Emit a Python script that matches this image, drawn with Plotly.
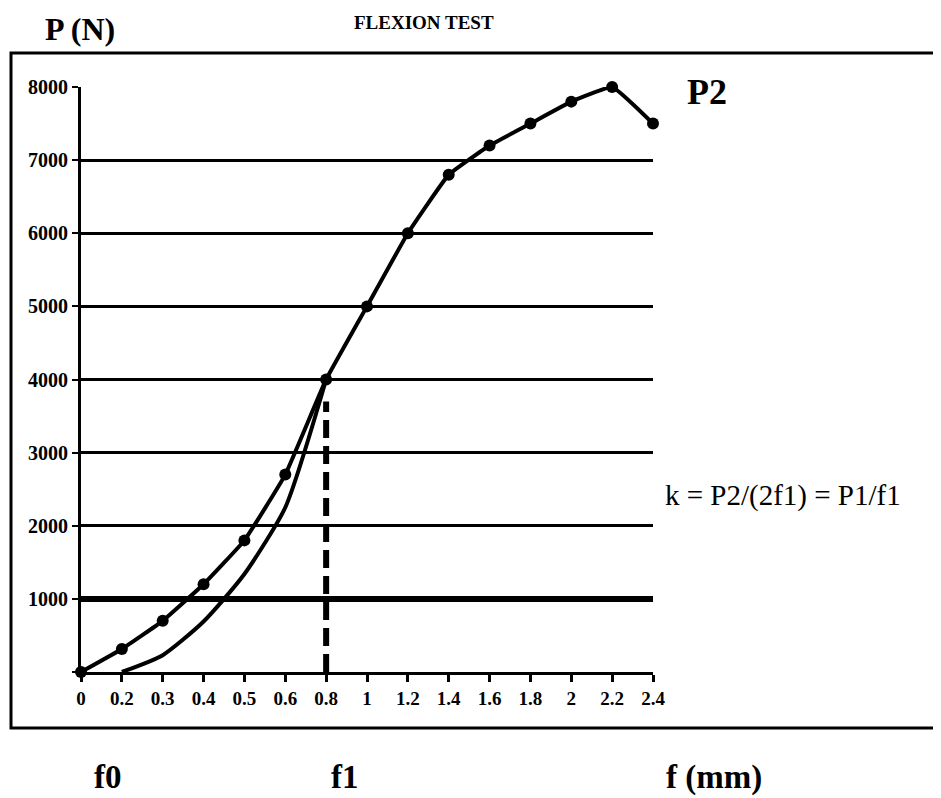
import plotly.graph_objects as go

# ---- data ----
deflection_labels = ["0", "0.2", "0.3", "0.4", "0.5", "0.6", "0.8", "1", "1.2",
                     "1.4", "1.6", "1.8", "2", "2.2", "2.4"]
load_curve = [0, 315, 700, 1200, 1800, 2700, 4000, 5000, 6000, 6800, 7200,
              7500, 7800, 8000, 7500]
second_x = ["0.2", "0.3", "0.4", "0.5", "0.6", "0.8"]
second_load = [0, 230, 690, 1340, 2250, 4000]
f1_label = "0.8"
f1_load = [0, 3700]
y_ticks = [0, 1000, 2000, 3000, 4000, 5000, 6000, 7000, 8000]
y_tick_text = ["", "1000", "2000", "3000", "4000", "5000", "6000", "7000", "8000"]

FONT = "Liberation Serif"

fig = go.Figure()

fig.add_trace(go.Scatter(
    x=second_x, y=second_load, mode="lines",
    line=dict(color="black", width=4, shape="spline", smoothing=0.6),
    cliponaxis=False, showlegend=False))

fig.add_trace(go.Scatter(
    x=deflection_labels, y=load_curve, mode="lines+markers",
    line=dict(color="black", width=4, shape="spline", smoothing=0.3),
    marker=dict(color="black", size=12),
    cliponaxis=False, showlegend=False))

fig.add_trace(go.Scatter(
    x=[f1_label, f1_label], y=f1_load, mode="lines",
    line=dict(color="black", width=6, dash="18px,8px"),
    cliponaxis=False, showlegend=False))

fig.update_xaxes(
    type="category", categoryorder="array", categoryarray=deflection_labels,
    range=[0, len(deflection_labels) - 1],
    showgrid=False, zeroline=False,
    showline=True, linecolor="black", linewidth=3,
    ticks="outside", ticklen=7, tickwidth=3, tickcolor="black",
    tickfont=dict(family=FONT, size=19, color="black", weight="bold"),
)
fig.update_yaxes(
    range=[0, 8000], tickvals=y_ticks, ticktext=y_tick_text,
    showgrid=True, gridcolor="black", gridwidth=3,
    zeroline=False,
    showline=True, linecolor="black", linewidth=3,
    ticks="outside", ticklen=6, tickwidth=2, tickcolor="black",
    tickfont=dict(family=FONT, size=20, color="black", weight="bold"),
)

# page body offset of 8px: screen x = fig x + 8
L, R, T, B = 73, 288, 79, 126
FIG_W, FIG_H = 933, 790


def px(xs):
    return (xs - 81) / 572


def py(ys):
    return (672 - ys) / 585


shapes = [
    # thick 1000 line
    dict(type="line", xref="paper", yref="y", x0=0, x1=1, y0=1000, y1=1000,
         line=dict(color="black", width=6), layer="above"),
    # outer frame
    dict(type="rect", xref="paper", yref="paper",
         x0=px(11), x1=px(980), y0=py(728), y1=py(53),
         line=dict(color="black", width=3)),
]

annotations = [
    dict(text="<b>P (N)</b>", x=px(80), y=py(29), font=dict(size=32)),
    dict(text="<b>FLEXION TEST</b>", x=px(424), y=py(23), font=dict(size=19)),
    dict(text="<b>P2</b>", x=px(707), y=py(92), font=dict(size=36)),
    dict(text="k = P2/(2f1) = P1/f1", x=px(783), y=py(495), font=dict(size=29)),
    dict(text="<b>f0</b>", x=px(108), y=py(777), font=dict(size=33)),
    dict(text="<b>f1</b>", x=px(345), y=py(777), font=dict(size=33)),
    dict(text="<b>f (mm)</b>", x=px(714), y=py(777), font=dict(size=33)),
]
for a in annotations:
    a.update(xref="paper", yref="paper", showarrow=False,
             xanchor="center", yanchor="middle")
    a["font"].update(family=FONT, color="black")

fig.update_layout(
    width=FIG_W, height=FIG_H,
    margin=dict(l=L, r=R, t=T, b=B),
    paper_bgcolor="white", plot_bgcolor="white",
    shapes=shapes, annotations=annotations,
    showlegend=False,
)

fig.write_html("out.html")
